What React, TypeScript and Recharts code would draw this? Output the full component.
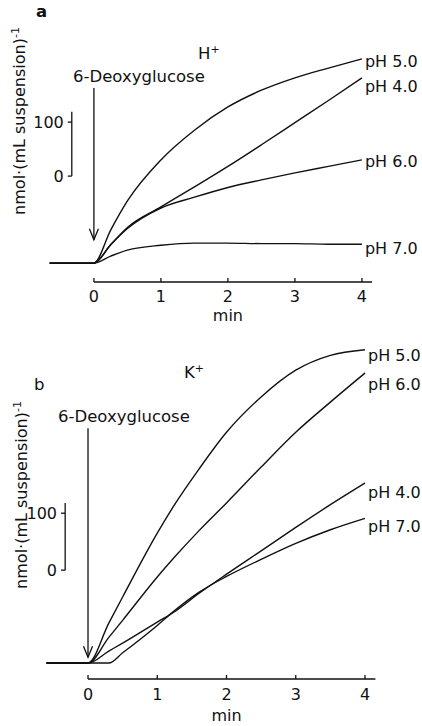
import { LineChart, Line, XAxis, YAxis, ReferenceLine } from "recharts";

// time after addition of 6-deoxyglucose (min)
const TIME_A = [-0.66, 0, 0.25, 0.5, 1, 1.5, 2, 2.5, 3, 3.5, 4];
// H+ panel, nmol/(mL suspension) above baseline
const A_PH50 = [0, 0, 61, 115, 191, 246, 289, 320, 343, 361, 378];
const A_PH40 = [0, 0, 34, 66, 104, 141, 179, 219, 260, 301, 343];
const A_PH60 = [0, 0, 34, 64, 102, 122, 140, 154, 167, 179, 191];
const A_PH70 = [0, 0, 13, 24, 33, 37, 37, 36, 36, 35, 35];

// K+ panel
const TIME_B = [-0.6, 0, 0.3, 0.5, 1, 1.25, 1.6, 2, 2.5, 3, 3.5, 4];
const B_PH50 = [0, 0, 70, 116, 228, 278, 340, 405, 467, 514, 540, 550];
const B_PH60 = [0, 0, 45, 75, 151, 186, 232, 281, 344, 405, 458, 509];
const B_PH40 = [0, 0, 21, 35, 72, 90, 122, 156, 197, 238, 278, 316];
const B_PH70 = [0, 0, 0, 18, 66, 92, 124, 152, 182, 210, 234, 254];

const X_TICKS = [0, 1, 2, 3, 4];
const SCALE_LABELS = ["0", "100"];

const FONT = "'DejaVu Sans', sans-serif";
const INK = "#111";

const rowsA = TIME_A.map((t, i) => ({ t, ph50: A_PH50[i], ph40: A_PH40[i], ph60: A_PH60[i], ph70: A_PH70[i] }));
const rowsB = TIME_B.map((t, i) => ({ t, ph50: B_PH50[i], ph60: B_PH60[i], ph40: B_PH40[i], ph70: B_PH70[i] }));

const seriesA = [
  { key: "ph50", name: "pH 5.0", dy: 4 },
  { key: "ph40", name: "pH 4.0", dy: 10 },
  { key: "ph60", name: "pH 6.0", dy: 3 },
  { key: "ph70", name: "pH 7.0", dy: 5 },
];
const seriesB = [
  { key: "ph50", name: "pH 5.0", dy: 7 },
  { key: "ph60", name: "pH 6.0", dy: 12 },
  { key: "ph40", name: "pH 4.0", dy: 10 },
  { key: "ph70", name: "pH 7.0", dy: 9 },
];

const endLabel = (name: string, n: number, dy: number, dx: number) => (p: any) =>
  p.index === n - 1 ? (
    <text x={p.x + dx} y={p.y + dy} dominantBaseline="middle" fontSize={16} fontFamily={FONT} fill={INK}>
      {name}
    </text>
  ) : (
    <g />
  );

const makeTick = (labelGap: number, minGap: number) => (p: any) => {
  const { x, y, payload } = p;
  return (
    <g>
      <line x1={x} y1={y} x2={x} y2={y - 4} stroke={INK} strokeWidth={1.3} />
      <text x={x} y={y + labelGap} textAnchor="middle" dominantBaseline="middle" fontSize={16} fontFamily={FONT} fill={INK}>
        {payload.value}
      </text>
      {payload.value === 2 && (
        <text x={x} y={y + minGap} textAnchor="middle" dominantBaseline="middle" fontSize={16} fontFamily={FONT} fill={INK}>
          min
        </text>
      )}
    </g>
  );
};

const Arrow = (p: any) => {
  const { x1, y1, x2, y2 } = p;
  return (
    <g>
      <line x1={x1} y1={y1} x2={x2} y2={y2} stroke={INK} strokeWidth={1.3} />
      <polyline
        points={`${x2 - 4.5},${y2 - 11} ${x2},${y2} ${x2 + 4.5},${y2 - 11}`}
        fill="none"
        stroke={INK}
        strokeWidth={1.3}
      />
    </g>
  );
};

function Panel({
  rows,
  series,
  width,
  height,
  margin,
  xDomain,
  yDomain,
  arrow,
  bar,
  labelGap,
  minGap,
}: any) {
  const n = rows.length;
  const hook = 0.06;
  return (
    <LineChart width={width} height={height} data={rows} margin={margin}>
      <XAxis
        dataKey="t"
        type="number"
        domain={xDomain}
        allowDataOverflow
        ticks={X_TICKS}
        axisLine={false}
        tickLine={false}
        tickSize={0}
        tickMargin={0}
        interval={0}
        height={30}
        tick={makeTick(labelGap, minGap)}
      />
      <YAxis type="number" domain={yDomain} allowDataOverflow hide />
      <ReferenceLine
        segment={[
          { x: 0, y: yDomain[0] },
          { x: 4.15, y: yDomain[0] },
        ]}
        stroke={INK}
        strokeWidth={1.3}
        ifOverflow="visible"
      />
      <ReferenceLine
        segment={[
          { x: 0, y: arrow[0] },
          { x: 0, y: arrow[1] },
        ]}
        shape={Arrow}
        ifOverflow="visible"
      />
      <ReferenceLine
        segment={[
          { x: bar.x, y: bar.zero },
          { x: bar.x, y: bar.top },
        ]}
        stroke={INK}
        strokeWidth={1.3}
        ifOverflow="visible"
      />
      {[bar.zero, bar.zero + 100].map((v: number, i: number) => (
        <ReferenceLine
          key={i}
          segment={[
            { x: bar.x - hook, y: v },
            { x: bar.x, y: v },
          ]}
          stroke={INK}
          strokeWidth={1.3}
          ifOverflow="visible"
          label={{ value: SCALE_LABELS[i], position: "left", offset: 4, fontSize: 16, fontFamily: FONT, fill: INK }}
        />
      ))}
      {series.map((s: any) => (
        <Line
          key={s.key}
          dataKey={s.key}
          type="monotone"
          stroke={INK}
          strokeWidth={1.4}
          dot={false}
          activeDot={false}
          isAnimationActive={false}
          label={endLabel(s.name, n, s.dy, 3)}
        />
      ))}
    </LineChart>
  );
}

const txt = (left: number, cy: number, content: any, extra: any = {}) => (
  <div
    style={{
      position: "absolute",
      left,
      top: cy - 9,
      lineHeight: "18px",
      fontSize: 16.5,
      whiteSpace: "nowrap",
      ...extra,
    }}
  >
    {content}
  </div>
);

const yLabel = (cx: number, cy: number) => (
  <div
    style={{
      position: "absolute",
      left: cx,
      top: cy,
      transform: "translate(-50%, -50%) rotate(-90deg)",
      fontSize: 16,
      lineHeight: "18px",
      whiteSpace: "nowrap",
    }}
  >
    nmol·(mL suspension)<sup style={{ fontSize: 11 }}>-1</sup>
  </div>
);

export default function App() {
  return (
    <div
      style={{
        position: "absolute",
        left: 0,
        top: 0,
        width: 422,
        height: 726,
        background: "#fff",
        fontFamily: FONT,
        color: INK,
        overflow: "hidden",
      }}
    >
      <div style={{ position: "absolute", left: 0, top: 0 }}>
        <Panel
          rows={rowsA}
          series={seriesA}
          width={422}
          height={330}
          margin={{ top: 20, right: 50, bottom: 18, left: 47 }}
          xDomain={[-0.7, 4.15]}
          yDomain={[-35, 450]}
          arrow={[324, 43]}
          bar={{ x: -0.33, zero: 161, top: 280 }}
          labelGap={15}
          minGap={34}
        />
      </div>
      {txt(36, 12, "a", { fontWeight: 600 })}
      {txt(198, 49, <span>H<sup style={{ fontSize: 11 }}>+</sup></span>)}
      {txt(73, 77, "6-Deoxyglucose")}
      {yLabel(18, 121)}

      <div style={{ position: "absolute", left: 0, top: 330 }}>
        <Panel
          rows={rowsB}
          series={seriesB}
          width={422}
          height={396}
          margin={{ top: 10, right: 46.6, bottom: 17, left: 43 }}
          xDomain={[-0.65, 4.15]}
          yDomain={[-28, 567]}
          arrow={[412, 10]}
          bar={{ x: -0.33, zero: 163, top: 281 }}
          labelGap={16}
          minGap={37}
        />
      </div>
      {txt(34, 385, "b")}
      {txt(184, 368, <span>K<sup style={{ fontSize: 11 }}>+</sup></span>)}
      {txt(58, 417, "6-Deoxyglucose")}
      {yLabel(20, 495)}
    </div>
  );
}
